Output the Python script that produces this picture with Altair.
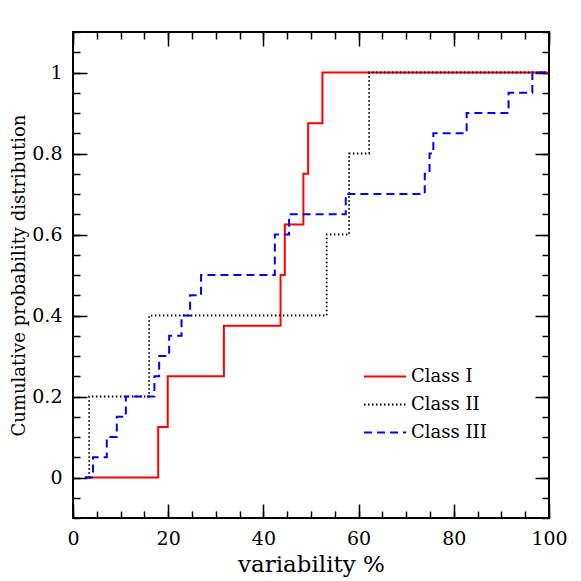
import altair as alt
import pandas as pd

# Class I (red, solid) step positions and cumulative values
c1_x = [2.5, 17.9, 19.9, 31.7, 43.6, 44.5, 48.4, 49.4, 52.4, 100.0]
c1_y = [0.0, 0.125, 0.25, 0.375, 0.5, 0.625, 0.75, 0.875, 1.0, 1.0]

# Class II (black, dotted)
c2_x = [2.5, 3.4, 16.0, 53.3, 58.0, 62.2, 100.0]
c2_y = [0.0, 0.2, 0.4, 0.6, 0.8, 1.0, 1.0]

# Class III (blue, dashed)
c3_x = [2.5, 4.2, 7.1, 9.2, 11.1, 17.1, 18.1, 20.2, 22.8, 24.6, 26.9,
        42.4, 42.4, 45.4, 57.3, 73.9, 74.9, 75.7, 82.7, 91.5, 96.5, 100.0]
c3_y = [0.0, 0.05, 0.1, 0.15, 0.2, 0.25, 0.3, 0.35, 0.4, 0.45, 0.5,
        0.55, 0.6, 0.65, 0.7, 0.75, 0.8, 0.85, 0.9, 0.95, 1.0, 1.0]

classes = ["Class I", "Class II", "Class III"]
colors = ["#ff0000", "#000000", "#0000ff"]
dashes = [[1, 0], [1.5, 2.5], [8, 5]]

x_major = [0, 20, 40, 60, 80, 100]
x_minor = [0, 5, 10, 15, 20, 25, 30, 35, 40, 45, 50, 55, 60, 65, 70, 75, 80, 85, 90, 95, 100]
y_major = [0, 0.2, 0.4, 0.6, 0.8, 1]
y_minor = [-0.1, -0.05, 0, 0.05, 0.1, 0.15, 0.2, 0.25, 0.3, 0.35, 0.4, 0.45, 0.5,
           0.55, 0.6, 0.65, 0.7, 0.75, 0.8, 0.85, 0.9, 0.95, 1.0, 1.05, 1.1]

rows = []
for name, xs, ys in [(classes[0], c1_x, c1_y), (classes[1], c2_x, c2_y), (classes[2], c3_x, c3_y)]:
    for i, (xv, yv) in enumerate(zip(xs, ys)):
        rows.append({"x": xv, "y": yv, "cls": name, "i": i})
df = pd.DataFrame(rows)

FONT = "DejaVu Serif"
MAJ = 14
MIN = 7

xscale = alt.Scale(domain=[0, 100], nice=False, zero=False)
yscale = alt.Scale(domain=[-0.1, 1.1], nice=False, zero=False)

legend = alt.Legend(
    orient="none", legendX=290, legendY=333, title=None,
    symbolType="M-1,0H3", symbolSize=441, symbolStrokeWidth=2,
    labelFont=FONT, labelFontSize=18, labelColor="black", labelOffset=25,
    rowPadding=7,
)
color = alt.Color("cls:N", scale=alt.Scale(domain=classes, range=colors), legend=legend)
dash = alt.StrokeDash("cls:N", scale=alt.Scale(domain=classes, range=dashes), legend=legend)

base = alt.Chart(df)

def line_layer(name, xaxis, yaxis, width):
    return base.transform_filter(alt.datum.cls == name).mark_line(
        interpolate="step-after", strokeWidth=width
    ).encode(
        x=alt.X("x:Q", scale=xscale, axis=xaxis),
        y=alt.Y("y:Q", scale=yscale, axis=yaxis),
        color=color, strokeDash=dash, order="i:Q",
    )

ax_bottom = alt.Axis(
    orient="bottom", values=x_major, tickSize=MAJ, offset=-MAJ, domain=False, grid=False,
    tickColor="black", tickWidth=1.5, labelPadding=11, labelFont=FONT, labelFontSize=19,
    labelColor="black", title="variability %", titleFont=FONT, titleFontSize=23,
    titleFontWeight="normal", titleColor="black", titlePadding=5, labelFlush=False,
)
ax_left = alt.Axis(
    orient="left", values=y_major, format="~g", tickSize=MAJ, offset=-MAJ, domain=False,
    grid=False, tickColor="black", tickWidth=1.5, labelPadding=11, labelFont=FONT,
    labelFontSize=19, labelColor="black", title="Cumulative probability distribution",
    titleFont=FONT, titleFontSize=18, titleFontWeight="normal", titleColor="black",
    titlePadding=3, labelFlush=False,
)

def tick_axis(orient, values, size):
    return alt.Axis(orient=orient, values=values, tickSize=size, offset=-size, domain=False,
                    grid=False, labels=False, title=None, tickColor="black", tickWidth=1.5)

l1 = line_layer(classes[0], ax_bottom, ax_left, 2)
l2 = line_layer(classes[1], tick_axis("bottom", x_minor, MIN), tick_axis("left", y_minor, MIN), 1.8)
l3 = line_layer(classes[2], tick_axis("top", x_major, MAJ), tick_axis("right", y_major, MAJ), 2)
l4 = base.mark_point(opacity=0).encode(
    x=alt.X("x:Q", scale=xscale, axis=tick_axis("top", x_minor, MIN)),
    y=alt.Y("y:Q", scale=yscale, axis=tick_axis("right", y_minor, MIN)),
)

chart = alt.layer(l1, l2, l3, l4).resolve_axis(x="independent", y="independent").properties(
    width=476, height=486,
    autosize=alt.AutoSizeParams(type="none"),
    padding={"left": 65, "top": 24, "right": 24, "bottom": 62},
    background="white",
).configure_view(stroke="black", strokeWidth=2)

chart.save("out.html", embed_options={"renderer": "svg", "actions": False})
